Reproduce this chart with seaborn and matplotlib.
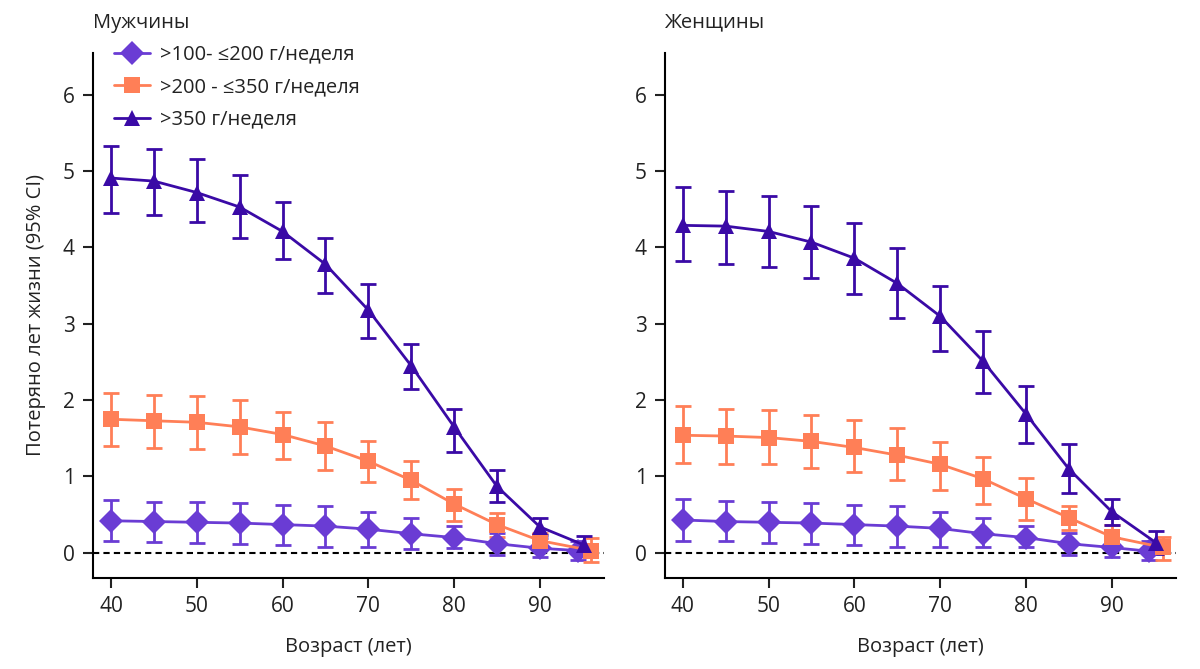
import numpy as np
import pandas as pd
import matplotlib
matplotlib.use("Agg")
import matplotlib.pyplot as plt
import seaborn as sns

ages = [40, 45, 50, 55, 60, 65, 70, 75, 80, 85, 90, 95]
groups = [">100- ≤200 г/неделя", ">200 - ≤350 г/неделя", ">350 г/неделя"]

# men
men_low = [0.42, 0.41, 0.40, 0.39, 0.37, 0.35, 0.31, 0.25, 0.20, 0.12, 0.06, 0.03]
men_low_lo = [0.15, 0.14, 0.13, 0.12, 0.10, 0.08, 0.08, 0.05, 0.06, -0.03, -0.06, -0.09]
men_low_hi = [0.69, 0.67, 0.66, 0.65, 0.63, 0.61, 0.53, 0.45, 0.35, 0.26, 0.20, 0.16]
men_mid = [1.75, 1.73, 1.71, 1.65, 1.55, 1.40, 1.20, 0.95, 0.64, 0.37, 0.16, 0.03]
men_mid_lo = [1.40, 1.37, 1.36, 1.29, 1.23, 1.09, 0.93, 0.70, 0.42, 0.21, 0.06, -0.12]
men_mid_hi = [2.10, 2.07, 2.06, 2.00, 1.85, 1.71, 1.47, 1.20, 0.84, 0.52, 0.26, 0.20]
men_high = [4.91, 4.87, 4.72, 4.53, 4.21, 3.78, 3.18, 2.45, 1.65, 0.87, 0.34, 0.10]
men_high_lo = [4.45, 4.42, 4.33, 4.12, 3.85, 3.41, 2.82, 2.14, 1.32, 0.66, 0.24, -0.02]
men_high_hi = [5.33, 5.29, 5.16, 4.95, 4.59, 4.13, 3.52, 2.74, 1.88, 1.09, 0.46, 0.22]

# women
women_low = [0.43, 0.41, 0.40, 0.39, 0.37, 0.35, 0.32, 0.25, 0.20, 0.12, 0.07, 0.02]
women_low_lo = [0.16, 0.15, 0.13, 0.12, 0.10, 0.08, 0.07, 0.07, 0.07, -0.03, -0.05, -0.09]
women_low_hi = [0.70, 0.68, 0.66, 0.65, 0.63, 0.61, 0.53, 0.46, 0.35, 0.26, 0.20, 0.16]
women_mid = [1.54, 1.53, 1.51, 1.46, 1.38, 1.28, 1.16, 0.97, 0.71, 0.46, 0.21, 0.07]
women_mid_lo = [1.18, 1.17, 1.16, 1.11, 1.06, 0.95, 0.82, 0.64, 0.43, 0.30, 0.08, -0.10]
women_mid_hi = [1.92, 1.88, 1.87, 1.81, 1.74, 1.63, 1.45, 1.26, 0.98, 0.62, 0.37, 0.21]
women_high = [4.29, 4.28, 4.21, 4.07, 3.86, 3.53, 3.10, 2.51, 1.82, 1.10, 0.54, 0.13]
women_high_lo = [3.82, 3.78, 3.74, 3.60, 3.39, 3.07, 2.64, 2.09, 1.44, 0.79, 0.37, -0.02]
women_high_hi = [4.79, 4.74, 4.67, 4.54, 4.32, 3.99, 3.50, 2.91, 2.19, 1.43, 0.71, 0.28]

colors = {groups[0]: "#6A3CD4", groups[1]: "#FF7F57", groups[2]: "#3A0AA6"}
markers = {groups[0]: "D", groups[1]: "s", groups[2]: "^"}
# small horizontal dodge at the last age so overlapping points stay visible
last_shift = {groups[0]: -0.6, groups[1]: 1.0, groups[2]: 0.2}


def make_df(series):
    rows = []
    for g, (val, lo, hi) in zip(groups, series):
        for i, a in enumerate(ages):
            x = a + (last_shift[g] if a == ages[-1] else 0)
            rows.append({"x": x, "group": g, "value": val[i], "lo": lo[i], "hi": hi[i]})
    return pd.DataFrame(rows)


men = make_df([(men_low, men_low_lo, men_low_hi),
               (men_mid, men_mid_lo, men_mid_hi),
               (men_high, men_high_lo, men_high_hi)])
women = make_df([(women_low, women_low_lo, women_low_hi),
                 (women_mid, women_mid_lo, women_mid_hi),
                 (women_high, women_high_lo, women_high_hi)])

sns.set_style("ticks")
plt.rcParams["font.family"] = ["Open Sans", "DejaVu Sans"]
plt.rcParams["text.color"] = "#222222"
plt.rcParams["axes.labelcolor"] = "#222222"
plt.rcParams["xtick.color"] = "#222222"
plt.rcParams["ytick.color"] = "#222222"

fig = plt.figure(figsize=(12, 6.69), dpi=100)
ax1 = fig.add_axes([0.0775, 0.136, 0.426, 0.785])
ax2 = fig.add_axes([0.554, 0.136, 0.426, 0.785])

for ax, df, title, show_legend in [(ax1, men, "Мужчины", True), (ax2, women, "Женщины", False)]:
    ax.axhline(0, color="black", ls="--", lw=1.5, dashes=(3, 2), zorder=1)
    for g in groups:
        d = df[df["group"] == g]
        ax.errorbar(d["x"], d["value"],
                    yerr=[d["value"] - d["lo"], d["hi"] - d["value"]],
                    fmt="none", ecolor=colors[g], elinewidth=2, capsize=6, capthick=2, zorder=2)
    sns.lineplot(data=df, x="x", y="value", hue="group", style="group",
                 palette=colors, markers=markers, dashes=False, linewidth=2,
                 markersize=12, markeredgewidth=0, ax=ax, legend=show_legend, zorder=3)
    ax.set_xlim(37.9, 97.5)
    ax.set_ylim(-0.33, 6.55)
    ax.set_xticks([40, 50, 60, 70, 80, 90])
    ax.set_yticks([0, 1, 2, 3, 4, 5, 6])
    ax.tick_params(labelsize=15, length=7, width=1.5, pad=6)
    for s in ["left", "bottom"]:
        ax.spines[s].set_linewidth(1.5)
        ax.spines[s].set_color("black")
    sns.despine(ax=ax)
    ax.set_xlabel("Возраст (лет)", fontsize=14.5, labelpad=14)
    ax.set_ylabel("")
    ax.set_title(title, loc="left", fontsize=14.5, pad=18)

ax1.set_ylabel("Потеряно лет жизни (95% CI)", fontsize=14.5, labelpad=12)
sns.move_legend(ax1, "upper left", bbox_to_anchor=(0.005, 1.05), frameon=False,
                title=None, fontsize=14.5, handlelength=1.8, handletextpad=0.5,
                labelspacing=0.62)

fig.savefig("out.png", dpi=100)
